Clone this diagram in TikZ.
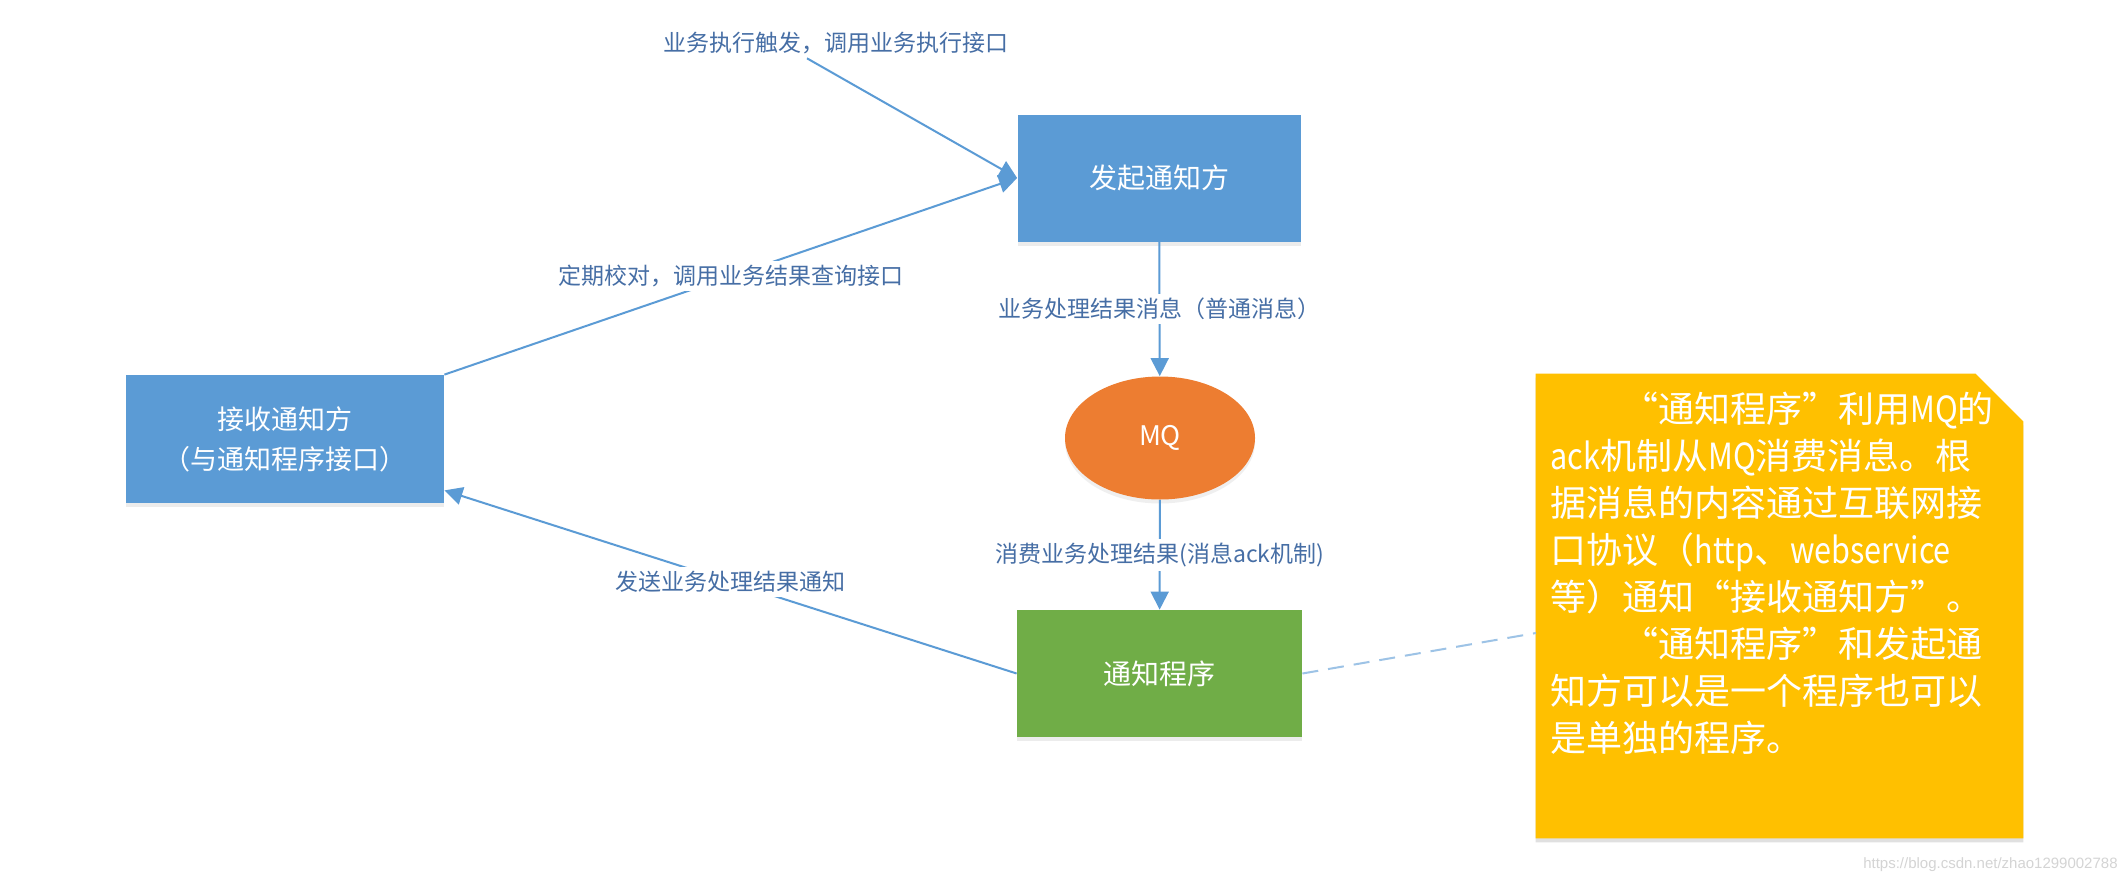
\documentclass[tikz,border=0pt]{standalone}
\usepackage{fontspec}
\setmainfont{Noto Sans CJK SC}
\newfontfamily\wmfont{Liberation Sans}
\newfontfamily\narlat[FakeStretch=0.85]{Noto Sans CJK SC}
\newcommand{\nl}[1]{{\narlat #1}}
\usetikzlibrary{arrows.meta,shapes.geometric,shadows,calc}
\definecolor{boxblue}{HTML}{5B9BD5}
\definecolor{mqorange}{HTML}{ED7D31}
\definecolor{pgreen}{HTML}{70AD47}
\definecolor{noteyellow}{HTML}{FFC000}
\definecolor{linkblue}{HTML}{5B9BD5}
\definecolor{labeltext}{RGB}{70,110,165}
\definecolor{dashblue}{HTML}{9DC3E6}
\definecolor{wmgray}{RGB}{212,212,212}
\begin{document}
\begin{tikzpicture}[x=0.5pt,y=-0.5pt,
  box/.style={rectangle, fill=#1, text=white, align=center, inner sep=0pt,
    drop shadow={shadow xshift=0pt, shadow yshift=-2pt, opacity=0.15}},
  boxfont/.style={font=\fontsize{14pt}{20pt}\selectfont},
  link/.style={draw=linkblue, line width=1pt, -{Triangle[length=9pt,width=9pt]}},
  lbl/.style={fill=white, text=labeltext, inner sep=2pt, font=\fontsize{11.5pt}{14pt}\selectfont},
  dashlink/.style={draw=dashblue, line width=1pt, dash pattern=on 8pt off 5pt}]
\useasboundingbox[fill=white] (0,0) rectangle (2128,884);

% nodes
\node[box=boxblue, boxfont, minimum width=141.5pt, minimum height=63.5pt] (init) at (1159,178) {发起通知方};
\node[box=boxblue, font=\fontsize{13.5pt}{20pt}\selectfont, minimum width=159pt, minimum height=64pt] (recv) at (285,439) {接收通知方\\（与通知程序接口）};
\node[ellipse, fill=mqorange, text=white, font=\fontsize{13.5pt}{16pt}\selectfont, minimum width=95pt, minimum height=61.5pt, inner sep=0pt,
  drop shadow={shadow xshift=0pt, shadow yshift=-2pt, opacity=0.12}] (mq) at (1160,438) {MQ};
\node[box=pgreen, boxfont, minimum width=142.5pt, minimum height=63.5pt] (prog) at (1159.5,673.5) {通知程序};
\node[lbl, fill=none] (trig) at (836,43) {业务执行触发，调用业务执行接口};

% note
\node[minimum width=243.5pt, minimum height=232pt, inner sep=0pt] (note) at (1779.5,606) {};
\fill[black, opacity=0.12] ([yshift=-2pt]note.north west) -- ([xshift=-24pt,yshift=-2pt]note.north east) -- ([yshift=-26pt]note.north east) -- ([yshift=-2pt]note.south east) -- ([yshift=-2pt]note.south west) -- cycle;
\fill[noteyellow] (note.north west) -- ([xshift=-24pt]note.north east) -- ([yshift=-24pt]note.north east) -- (note.south east) -- (note.south west) -- cycle;
\node[anchor=north west, inner sep=0pt, text=white, align=left, text width=240pt,
  font=\fontsize{18pt}{23.5pt}\selectfont] (notetext) at (1550,392)
  {\hspace*{2em}“通知程序”利用\nl{MQ}的\\
   \nl{ack}机制从\nl{MQ}消费消息。根\\
   据消息的内容通过互联网接\\
   口协议（\nl{http}、\nl{webservice}\\
   等）通知“接收通知方”。\\
   \hspace*{2em}“通知程序”和发起通\\
   知方可以是一个程序也可以\\
   是单独的程序。};
\coordinate (noteA) at (1536,633);

% watermark
\node[anchor=east, text=wmgray, inner sep=0pt, font=\wmfont\fontsize{7.5pt}{9pt}\selectfont] (wm) at (2118,865) {https://blog.csdn.net/zhao1299002788};

% connectors
\draw[link] ($(trig.south)+(-29,0)$) -- (init.west);
\draw[link] (recv.north east) -- node[lbl]{定期校对，调用业务结果查询接口} (init.west);
\draw[link] (init) -- node[lbl]{业务处理结果消息（普通消息）} (mq);
\draw[link] (mq) -- node[lbl]{消费业务处理结果(消息ack机制)} (prog);
\draw[link] (prog.west) -- node[lbl]{发送业务处理结果通知} ($(recv.south east)+(0,-13)$);
\draw[dashlink] (prog.east) -- (noteA);
\end{tikzpicture}
\end{document}
